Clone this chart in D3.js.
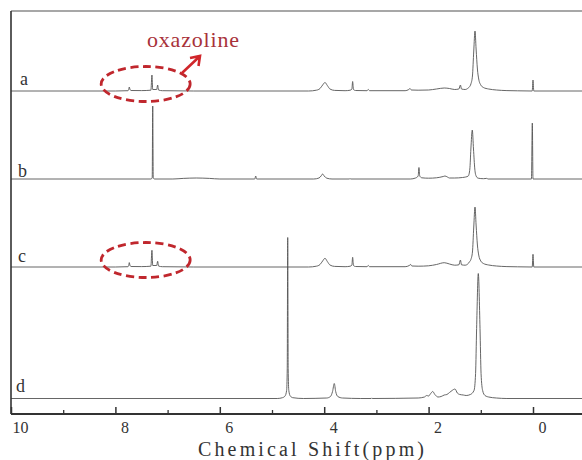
<!DOCTYPE html>
<html>
<head>
<meta charset="utf-8">
<script src="https://cdn.jsdelivr.net/npm/d3@7"></script>
<style>
  body { margin: 0; background: #fff; }
  svg { display: block; font-family: "Liberation Serif", "Times New Roman", serif; }
</style>
</head>
<body>
<div id="chart"></div>
<script>

// spectra: [ppm, intensity]
var traceA = [
    [10.2,0],[8.0,0],[7.76,0.3],[7.745,1.5],[7.734,4],[7.72,1.5],[7.70,0.5],[7.5,0.4],[7.32,0.8],[7.30,16],[7.285,1.5],
    [7.21,1.5],[7.19,6],[7.175,1],[7.1,0.3],[6.5,0],[4.3,0],[4.15,0.8],[4.08,2.5],[4.03,6],[3.985,8.5],[3.94,5.5],
    [3.89,2],[3.8,0.6],[3.6,0.3],[3.50,0.8],[3.47,2],[3.455,9.5],[3.44,1.5],[3.40,0.5],[3.18,0.3],[3.155,1.5],[3.13,0.3],
    [2.45,0.3],[2.38,1.5],[2.356,2.5],[2.33,1],[2.2,0.8],[2.0,1],[1.85,2],[1.70,3],[1.6,2.5],[1.5,1.5],[1.42,2],[1.39,6],
    [1.37,2],[1.30,1.5],[1.24,3],[1.22,4],[1.19,7],[1.16,15],[1.135,40],[1.111,60],[1.09,42],[1.065,22],[1.04,12],
    [1.0,6],[0.95,3.5],[0.85,2],[0.7,1],[0.5,0.4],[0.3,0.2],[0.015,0],[0.0,11],[-0.015,0],[-1,0]
];
var traceB = [
    [10.2,0],[7.32,0],[7.295,1],[7.285,73],[7.275,1],[7.25,0],[6.9,0],[6.7,0.6],[6.45,1],[6.2,0.6],[6.0,0],[5.33,0],
    [5.312,3],[5.295,0],[4.2,0],[4.1,1],[4.06,3],[4.03,5],[4.0,3],[3.95,0.8],[3.85,0],[3.52,0],[3.506,0.6],[3.49,0],
    [2.35,0],[2.25,1],[2.2,3],[2.185,11.5],[2.17,3],[2.13,1.2],[2.0,0.8],[1.85,1.2],[1.72,2.5],[1.686,3],[1.64,2],
    [1.6,1],[1.5,1],[1.35,1.5],[1.29,2],[1.24,3],[1.21,10],[1.19,30],[1.163,49],[1.14,30],[1.115,10],[1.09,3],
    [1.05,0.8],[0.95,0.3],[0.887,0.6],[0.86,0],[0.03,0],[0.013,56],[0.0,0],[-1,0]
];
var traceC = [
    [10.2,0],[8.0,0],[7.76,0.3],[7.745,1.5],[7.734,4.4],[7.72,1.5],[7.70,0.5],[7.5,0.4],[7.32,0.8],[7.30,16.7],[7.285,1.5],
    [7.21,1.5],[7.19,5.7],[7.175,1],[7.1,0.3],[6.5,0],[4.3,0],[4.15,0.8],[4.08,2.5],[4.03,6],[3.985,8.7],[3.94,5.5],
    [3.89,2],[3.8,0.6],[3.6,0.3],[3.50,0.8],[3.47,2],[3.455,9.7],[3.44,1.5],[3.40,0.5],[3.18,0.3],[3.155,1.5],[3.13,0.3],
    [2.45,0.3],[2.37,1.5],[2.343,2.5],[2.32,1],[2.2,0.8],[2.0,1.2],[1.85,2.5],[1.70,4.3],[1.6,3],[1.5,1.8],[1.42,2.2],
    [1.39,7],[1.37,2.2],[1.30,1.8],[1.24,3.5],[1.22,5],[1.19,7.5],[1.16,15],[1.135,40],[1.111,60],[1.09,42],[1.065,22],
    [1.04,12],[1.0,6],[0.95,3.5],[0.85,2],[0.7,1],[0.5,0.4],[0.3,0.2],[0.015,0],[0.0,12.7],[-0.015,0],[-1,0]
];
var traceD = [
    [10.2,0],[4.9,0],[4.80,0.8],[4.75,2.5],[4.72,8],[4.708,30],[4.699,161],[4.69,30],[4.678,8],[4.65,2.5],[4.6,0.8],
    [4.4,0],[3.95,0.5],[3.88,2],[3.84,7],[3.807,15],[3.78,7],[3.74,2],[3.65,0.5],[3.3,0],[3.10,0],[3.09,0.6],[3.08,0],
    [2.2,0.5],[2.08,1.5],[2.036,3],[2.0,2.5],[1.96,5],[1.921,7],[1.88,4],[1.82,1.5],[1.76,2],[1.70,3.5],[1.65,4],
    [1.60,6],[1.55,8],[1.494,9.5],[1.45,5.5],[1.40,4],[1.335,3.5],[1.28,3],[1.2,4],[1.13,8],[1.10,25],[1.08,70],
    [1.048,125],[1.015,70],[0.995,25],[0.965,8],[0.92,3],[0.85,1.5],[0.7,0.5],[0.5,0],[-1,0]
];
var traceNames = ["a", "b", "c", "d"];
var majorTicks = [10, 8, 6, 4, 2, 0];
var minorTicks = [9, 7, 5, 3, 1];
var markedShift = 7.42; // centre of the oxazoline rings

var width = 582, height = 460,
    box = {left: 11, right: 582, top: 11, bottom: 414},
    baselines = [91, 179, 267, 398.5],
    labelPos = [[20, 85], [18, 177], [18, 262], [16, 392]];

var svg = d3.select("#chart").append("svg")
    .attr("width", width)
    .attr("height", height);

var x = d3.scaleLinear().domain([10, 0]).range([11, 533]);

svg.append("clipPath").attr("id", "plotclip")
    .append("rect")
    .attr("x", box.left).attr("y", box.top)
    .attr("width", box.right - box.left).attr("height", box.bottom - box.top);

var traces = [traceA, traceB, traceC, traceD];
var plot = svg.append("g").attr("clip-path", "url(#plotclip)");

traces.forEach(function (t, i) {
    var y = d3.scaleLinear().domain([0, 100]).range([baselines[i], baselines[i] - 100]);
    var line = d3.line()
        .x(function (d) { return x(d[0]); })
        .y(function (d) { return y(d[1]); })
        .curve(d3.curveMonotoneX);
    plot.append("path")
        .datum(t)
        .attr("d", line)
        .attr("fill", "none")
        .attr("stroke", "#555")
        .attr("stroke-width", 0.9);
});

// frame: top and left
svg.append("line")
    .attr("x1", box.left).attr("x2", box.right)
    .attr("y1", box.top).attr("y2", box.top)
    .attr("stroke", "#8a8a8a").attr("stroke-width", 1.5);
svg.append("line")
    .attr("x1", box.left).attr("x2", box.left)
    .attr("y1", box.top).attr("y2", box.bottom)
    .attr("stroke", "#333").attr("stroke-width", 1.6);

var xAxis = svg.append("g")
    .attr("transform", "translate(0," + box.bottom + ")")
    .call(d3.axisBottom(x).tickValues(majorTicks).tickSizeInner(-7).tickSizeOuter(0).tickPadding(8)
        .tickFormat(d3.format("d")));
xAxis.select(".domain").remove();
xAxis.selectAll(".tick line").attr("stroke", "#333").attr("stroke-width", 1.5);
xAxis.selectAll(".tick text")
    .attr("dx", 9)
    .attr("fill", "#333")
    .style("font-family", "'Liberation Serif', serif")
    .style("font-size", "16px");

var minorAxis = svg.append("g")
    .attr("transform", "translate(0," + box.bottom + ")")
    .call(d3.axisBottom(x).tickValues(minorTicks).tickSizeInner(-4).tickSizeOuter(0).tickFormat(""));
minorAxis.select(".domain").remove();
minorAxis.selectAll(".tick line").attr("stroke", "#333").attr("stroke-width", 1.3);

svg.append("line")
    .attr("x1", box.left).attr("x2", box.right)
    .attr("y1", box.bottom).attr("y2", box.bottom)
    .attr("stroke", "#333").attr("stroke-width", 1.8);

svg.append("text")
    .attr("x", 198).attr("y", 456)
    .attr("textLength", 226).attr("lengthAdjust", "spacing")
    .attr("fill", "#333")
    .style("font-size", "20px")
    .text("Chemical Shift(ppm)");

svg.selectAll(".tracename")
    .data(traceNames)
    .enter()
    .append("text")
    .attr("class", "tracename")
    .attr("x", function (d, i) { return labelPos[i][0]; })
    .attr("y", function (d, i) { return labelPos[i][1]; })
    .attr("fill", "#333")
    .style("font-size", "18px")
    .text(function (d) { return d; });

// dashed rings round the oxazoline peaks in a and c
[0, 2].forEach(function (i) {
    svg.append("ellipse")
        .attr("cx", x(markedShift))
        .attr("cy", baselines[i] - 7)
        .attr("rx", 44.5)
        .attr("ry", 17.5)
        .attr("fill", "none")
        .attr("stroke", "#c0272d")
        .attr("stroke-width", 2.8)
        .attr("stroke-dasharray", "8,4.5");
});

svg.append("path")
    .attr("d", "M182,73L199,57M190,58L200,56L198.5,66")
    .attr("fill", "none")
    .attr("stroke", "#d0262b")
    .attr("stroke-width", 2.6)
    .attr("stroke-linejoin", "miter");

svg.append("text")
    .attr("x", 147).attr("y", 47)
    .attr("textLength", 92).attr("lengthAdjust", "spacing")
    .attr("fill", "#a8323a")
    .style("font-size", "22px")
    .text("oxazoline");

</script>
</body>
</html>
